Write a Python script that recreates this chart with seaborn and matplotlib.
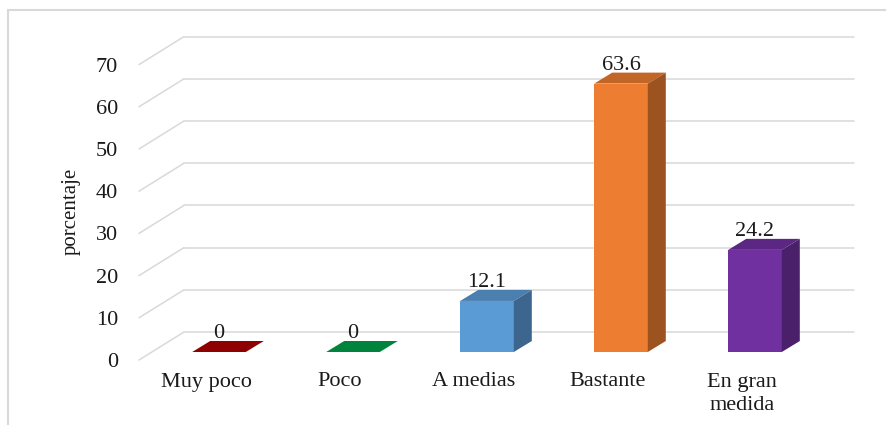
import matplotlib
matplotlib.use("Agg")
import matplotlib.pyplot as plt
import matplotlib.transforms as mtrans
from matplotlib.patches import Polygon, Rectangle
from matplotlib.lines import Line2D
import numpy as np
import seaborn as sns

categorias = ["Muy poco", "Poco", "A medias", "Bastante", "En gran\nmedida"]
porcentaje = [0, 0, 12.1, 63.6, 24.2]
colores = ["#8f0000", "#00843d", "#5b9bd5", "#ed7d31", "#7030a0"]
yticks = [0, 10, 20, 30, 40, 50, 60, 70]

sns.set_style("white")
plt.rcParams["font.family"] = ["Liberation Serif", "DejaVu Serif"]
plt.rcParams["font.size"] = 16
txt_color = "#1a1a1a"
grid_color = "#d9d9d9"

fig = plt.figure(figsize=(8.87, 4.25), dpi=100)
W, H = 887, 425
ax = fig.add_axes([152 / W, (H - 352) / H, 670 / W, (352 - 56.6) / H])
ax.set_facecolor("none")

# pixel offsets (y up) for the fake 3d: front plane, back wall, bar depth
FRONT = (-13, -8)
BACK = (32, 20)
DEPTH = (18, 11)


def off(dx, dy):
    return ax.transData + mtrans.ScaledTranslation(dx / 100, dy / 100, fig.dpi_scale_trans)


sns.barplot(x=categorias, y=porcentaje, hue=categorias, palette=colores,
            width=0.4, saturation=1, legend=False, ax=ax, zorder=3,
            edgecolor="none")
ax.set_xlim(-0.5, 4.5)
ax.set_ylim(0, 70)
for s in ax.spines.values():
    s.set_visible(False)

# back wall gridlines + side diagonals
for v in yticks:
    ax.plot([-0.5, 4.5], [v, v], color=grid_color, lw=1.1,
            transform=off(*BACK), clip_on=False, zorder=1)
    p = ax.transData.transform((-0.5, v))
    fig.add_artist(Line2D([p[0] + FRONT[0], p[0] + BACK[0]],
                          [p[1] + FRONT[1], p[1] + BACK[1]],
                          transform=mtrans.IdentityTransform(),
                          color=grid_color, lw=1.1, zorder=1))


def shade(c, f):
    rgb = np.array(matplotlib.colors.to_rgb(c))
    return tuple(rgb * f)


# top and side faces of each bar
for patch, c, v in zip(ax.patches, colores, porcentaje):
    x0 = patch.get_x()
    w = patch.get_width()
    h = patch.get_height()
    a = ax.transData.transform((x0, 0))
    b = ax.transData.transform((x0 + w, h))
    dx, dy = DEPTH
    top = [(a[0], b[1]), (b[0], b[1]), (b[0] + dx, b[1] + dy), (a[0] + dx, b[1] + dy)]
    side = [(b[0], a[1]), (b[0], b[1]), (b[0] + dx, b[1] + dy), (b[0] + dx, a[1] + dy)]
    top_c = c if h == 0 else shade(c, 0.82)
    fig.add_artist(Polygon(top, closed=True, transform=mtrans.IdentityTransform(),
                           facecolor=top_c, edgecolor="none", zorder=4))
    if h > 0:
        fig.add_artist(Polygon(side, closed=True, transform=mtrans.IdentityTransform(),
                               facecolor=shade(c, 0.66), edgecolor="none", zorder=4))
    ax.text(x0 + w / 2, h, f"{v:g}", transform=off(0, 14), ha="center",
            va="baseline", color=txt_color, fontsize=16, zorder=5)

ax.set_yticks(yticks)
ax.set_yticklabels([str(t) for t in yticks])
ax.tick_params(axis="both", length=0, labelsize=16, colors=txt_color)
ax.tick_params(axis="y", pad=15)
ax.tick_params(axis="x", pad=9)
shift = mtrans.ScaledTranslation(FRONT[0] / 100, FRONT[1] / 100, fig.dpi_scale_trans)
for lab in ax.get_xticklabels() + ax.get_yticklabels():
    lab.set_transform(lab.get_transform() + shift)
for lab in ax.get_xticklabels():
    lab.set_linespacing(1.3)

ax.set_xlabel("")
ax.set_ylabel("porcentaje", fontsize=15, color=txt_color)
ax.yaxis.set_label_coords(-0.107, 0.475)

fig.add_artist(Rectangle((8 / W, -0.1), 1.0, 1 - 10 / H + 0.1,
                         transform=fig.transFigure, fill=False,
                         edgecolor=grid_color, lw=1.5))

fig.savefig("out.png", dpi=100)
